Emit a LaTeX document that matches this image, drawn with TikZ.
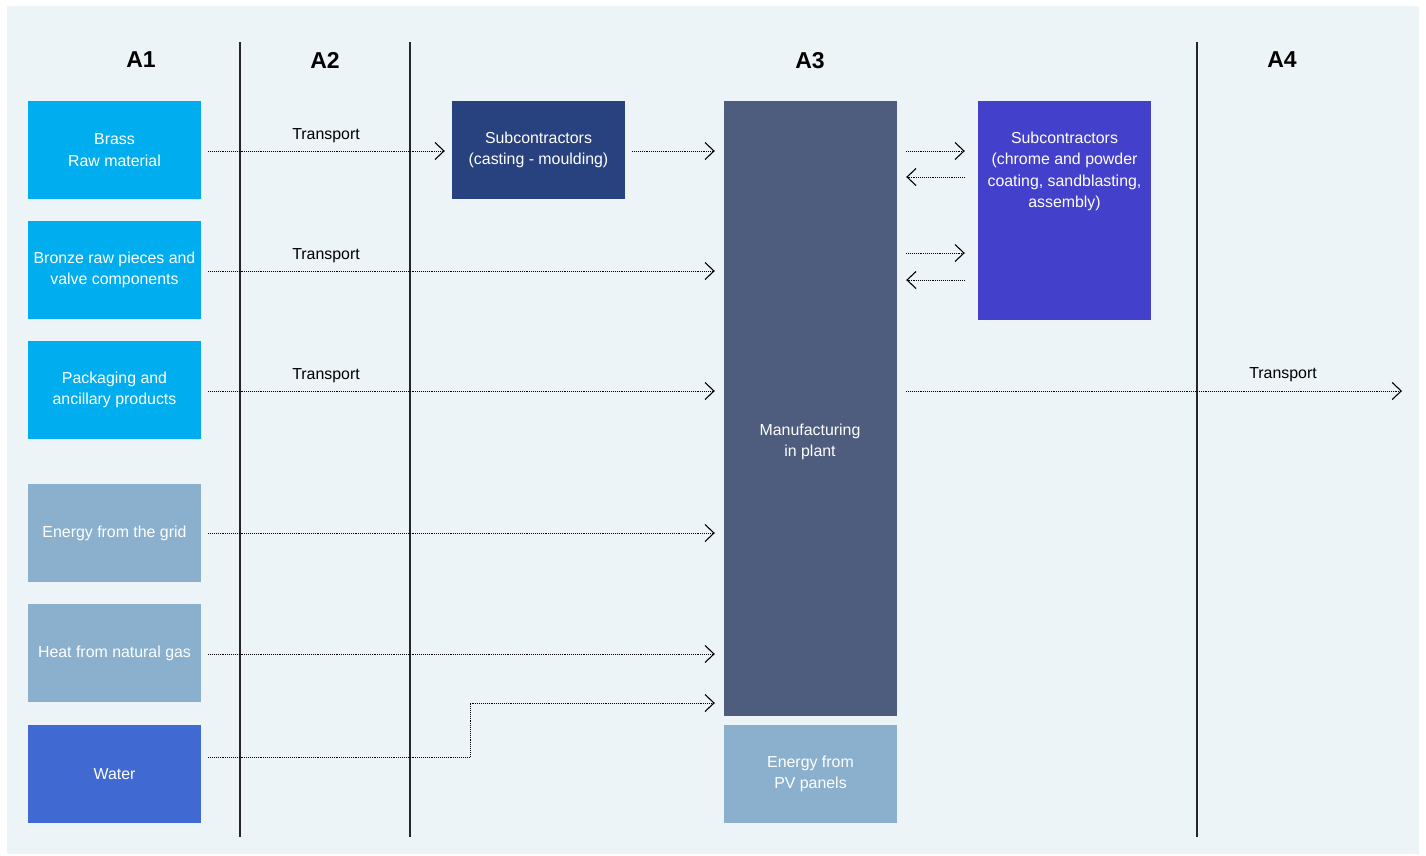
\documentclass[tikz,border=0pt]{standalone}
\usepackage{fontspec}
\setmainfont{Liberation Sans}
\usetikzlibrary{arrows.meta}
\definecolor{bgc}{HTML}{ECF4F8}
\definecolor{cyanbox}{HTML}{00AEEF}
\definecolor{greybox}{HTML}{8AB0CE}
\definecolor{waterbox}{HTML}{4169D2}
\definecolor{castbox}{HTML}{28427F}
\definecolor{mfgbox}{HTML}{4E5C7E}
\definecolor{chromebox}{HTML}{4340CB}
\tikzset{
  box/.style={draw=none,minimum width=173pt,inner sep=0pt,text=white,align=center,font=\fontsize{15.9}{21.5}\selectfont},
  hdr/.style={font=\fontsize{23}{26}\selectfont\bfseries,text depth=0pt},
  lbl/.style={font=\fontsize{15.9}{18}\selectfont,text=black},
  flow/.style={line width=0.85pt,dash pattern=on 1pt off 0.9pt,-{Straight Barb[length=9pt,width=17pt,line width=1.1pt]}},
  divider/.style={line width=1.3pt,draw=black!85}
}
\begin{document}
\begin{tikzpicture}[x=1pt,y=-1pt]
\useasboundingbox (0,0) rectangle (1426,855);
\fill[white] (0,0) rectangle (1426,855);
\fill[bgc] (7,6) rectangle (1419,854);
% dividers
\draw[divider] (240,42) coordinate (d1a) -- (240,837) coordinate (d1b);
\draw[divider] (410,42) coordinate (d2a) -- (410,837) coordinate (d2b);
\draw[divider] (1197,42) coordinate (d3a) -- (1197,837) coordinate (d3b);
% headers
\node[hdr] (h1) at (141,60) {A1};
\node[hdr] (h2) at (325,60) {A2};
\node[hdr] (h3) at (810,60) {A3};
\node[hdr] (h4) at (1282,60) {A4};
% A1 boxes
\node[box,fill=cyanbox,minimum height=98pt] (brass) at (114.5,150) {Brass\\Raw material};
\node[box,fill=cyanbox,minimum height=98pt] (bronze) at (114.5,270) {Bronze raw pieces and\\valve components};
\node[box,fill=cyanbox,minimum height=98pt] (pack) at (114.5,390) {Packaging and\\ancillary products};
\node[box,fill=greybox,minimum height=98pt] (grid) at (114.5,533) {Energy from the grid};
\node[box,fill=greybox,minimum height=98pt] (heat) at (114.5,653) {Heat from natural gas};
\node[box,fill=waterbox,minimum height=98pt] (water) at (114.5,774) {Water};
% A3 boxes
\node[box,fill=castbox,minimum height=98pt] (cast) at (538.5,150) {Subcontractors\\(casting - moulding)};
\node[box,fill=mfgbox,minimum height=615pt] (mfg) at (810.5,408.5) {};
\node[box,fill=none] (mfgtext) at (810,442) {Manufacturing\\in plant};
\node[box,fill=greybox,minimum height=98pt] (pv) at (810.5,774) {Energy from\\PV panels};
\node[box,fill=chromebox,minimum height=219pt] (chrome) at (1064.5,210.5) {};
\node[box,fill=none] (chrometext) at (1064.5,171.5) {Subcontractors\\(chrome and powder\\coating, sandblasting,\\assembly)};
% flows
\draw[flow,shorten <=7pt,shorten >=7pt] (brass.east |- 0,151) -- (cast.west |- 0,151);
\node[lbl] (t1) at (326,135.5) {Transport};
\draw[flow,shorten <=7pt,shorten >=9pt] (cast.east |- 0,151) -- (mfg.west |- 0,151);
\draw[flow,shorten <=7pt,shorten >=9pt] (bronze.east |- 0,271) -- (mfg.west |- 0,271);
\node[lbl] (t2) at (326,255.5) {Transport};
\draw[flow,shorten <=7pt,shorten >=9pt] (pack.east |- 0,391) -- (mfg.west |- 0,391);
\node[lbl] (t3) at (326,375.5) {Transport};
\draw[flow,shorten <=7pt,shorten >=9pt] (grid.east) -- (mfg.west |- grid.east);
\draw[flow,shorten <=7pt,shorten >=9pt] (heat.east |- 0,654) -- (mfg.west |- 0,654);
\coordinate (wk1) at (470,757);
\coordinate (wk2) at (470,703);
\draw[flow,shorten <=7pt,shorten >=9pt] (water.east |- 0,757) -- (wk1) -- (wk2) -- (mfg.west |- 0,703);
% exchange with chrome subcontractors
\draw[flow,shorten <=9pt,shorten >=13pt] (mfg.east |- 0,151) -- (chrome.west |- 0,151);
\draw[flow,shorten <=13pt,shorten >=9pt] (chrome.west |- 0,177) -- (mfg.east |- 0,177);
\draw[flow,shorten <=9pt,shorten >=13pt] (mfg.east |- 0,253) -- (chrome.west |- 0,253);
\draw[flow,shorten <=13pt,shorten >=9pt] (chrome.west |- 0,280) -- (mfg.east |- 0,280);
% out
\coordinate (outend) at (1402,391);
\draw[flow,shorten <=9pt] (mfg.east |- 0,391) -- (outend);
\node[lbl] (t4) at (1283,374.5) {Transport};
\end{tikzpicture}
\end{document}
